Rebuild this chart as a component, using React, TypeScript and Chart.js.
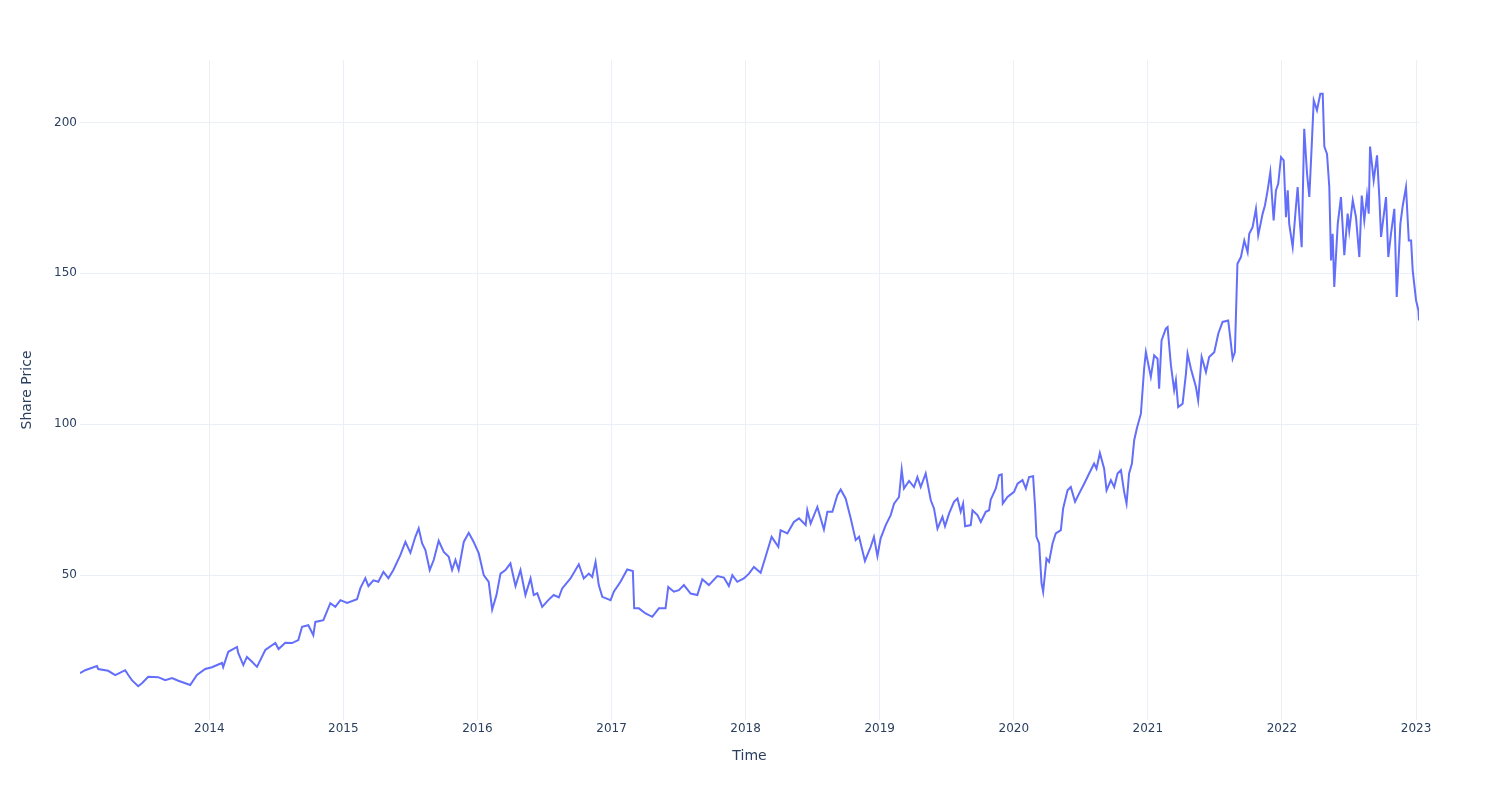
import React, { useEffect, useRef } from "react";
import { Chart, registerables } from "chart.js";

Chart.register(...registerables);

// Dates as decimal years
const years = [
  2013.036, 2013.075, 2013.162, 2013.172, 2013.246, 2013.299, 2013.373, 2013.396, 2013.423, 2013.470,
  2013.498, 2013.545, 2013.619, 2013.672, 2013.722, 2013.769, 2013.858, 2013.908, 2013.970, 2014.020,
  2014.095, 2014.104, 2014.142, 2014.207, 2014.216, 2014.254, 2014.281, 2014.319, 2014.356, 2014.418,
  2014.493, 2014.517, 2014.567, 2014.617, 2014.664, 2014.692, 2014.739, 2014.776, 2014.791, 2014.851,
  2014.903, 2014.940, 2014.978, 2015.028, 2015.102, 2015.127, 2015.164, 2015.187, 2015.224, 2015.261,
  2015.299, 2015.336, 2015.373, 2015.425, 2015.463, 2015.500, 2015.537, 2015.562, 2015.587, 2015.612,
  2015.644, 2015.674, 2015.711, 2015.749, 2015.786, 2015.811, 2015.836, 2015.860, 2015.898, 2015.935,
  2015.972, 2016.010, 2016.047, 2016.084, 2016.110, 2016.142, 2016.172, 2016.209, 2016.246, 2016.284,
  2016.321, 2016.358, 2016.396, 2016.420, 2016.446, 2016.483, 2016.532, 2016.569, 2016.607, 2016.632,
  2016.694, 2016.756, 2016.793, 2016.831, 2016.856, 2016.881, 2016.905, 2016.931, 2016.993, 2017.017,
  2017.067, 2017.117, 2017.159, 2017.169, 2017.204, 2017.254, 2017.304, 2017.353, 2017.403, 2017.423,
  2017.465, 2017.502, 2017.540, 2017.590, 2017.640, 2017.677, 2017.726, 2017.789, 2017.838, 2017.875,
  2017.901, 2017.938, 2017.987, 2018.025, 2018.062, 2018.112, 2018.149, 2018.194, 2018.244, 2018.261,
  2018.311, 2018.360, 2018.398, 2018.448, 2018.460, 2018.485, 2018.535, 2018.584, 2018.610, 2018.647,
  2018.684, 2018.709, 2018.746, 2018.784, 2018.821, 2018.846, 2018.890, 2018.933, 2018.957, 2018.983,
  2019.007, 2019.045, 2019.082, 2019.107, 2019.144, 2019.164, 2019.181, 2019.219, 2019.256, 2019.281,
  2019.306, 2019.343, 2019.381, 2019.405, 2019.431, 2019.468, 2019.487, 2019.517, 2019.554, 2019.580,
  2019.604, 2019.622, 2019.637, 2019.679, 2019.692, 2019.729, 2019.754, 2019.791, 2019.816, 2019.828,
  2019.866, 2019.890, 2019.910, 2019.918, 2019.953, 2020.002, 2020.028, 2020.065, 2020.090, 2020.114,
  2020.144, 2020.159, 2020.169, 2020.189, 2020.207, 2020.219, 2020.244, 2020.263, 2020.289, 2020.313,
  2020.351, 2020.368, 2020.401, 2020.425, 2020.457, 2020.487, 2020.525, 2020.562, 2020.599, 2020.617,
  2020.642, 2020.674, 2020.692, 2020.724, 2020.749, 2020.774, 2020.799, 2020.823, 2020.841, 2020.860,
  2020.881, 2020.898, 2020.918, 2020.948, 2020.972, 2020.985, 2021.022, 2021.047, 2021.072, 2021.084,
  2021.102, 2021.134, 2021.147, 2021.172, 2021.196, 2021.209, 2021.226, 2021.259, 2021.284, 2021.296,
  2021.321, 2021.358, 2021.375, 2021.401, 2021.433, 2021.457, 2021.495, 2021.525, 2021.557, 2021.599,
  2021.614, 2021.632, 2021.649, 2021.660, 2021.668, 2021.694, 2021.719, 2021.744, 2021.756, 2021.781,
  2021.806, 2021.823, 2021.856, 2021.873, 2021.893, 2021.913, 2021.938, 2021.955, 2021.972, 2021.993,
  2022.013, 2022.030, 2022.043, 2022.054, 2022.080, 2022.104, 2022.117, 2022.129, 2022.147, 2022.166,
  2022.187, 2022.204, 2022.222, 2022.237, 2022.261, 2022.286, 2022.304, 2022.316, 2022.336, 2022.353,
  2022.366, 2022.378, 2022.390, 2022.416, 2022.440, 2022.465, 2022.490, 2022.502, 2022.528, 2022.552,
  2022.577, 2022.595, 2022.614, 2022.634, 2022.647, 2022.657, 2022.684, 2022.709, 2022.726, 2022.739,
  2022.776, 2022.793, 2022.813, 2022.838, 2022.856, 2022.883, 2022.901, 2022.925, 2022.946, 2022.963,
  2022.975, 2023.000, 2023.018, 2023.022,
];

// Share prices
const prices = [
  17.5, 18.5, 19.9, 18.9, 18.3, 16.9, 18.5, 16.9, 15.2, 13.2,
  14.2, 16.3, 16.2, 15.2, 15.9, 15.0, 13.6, 16.9, 18.9, 19.5,
  20.9, 19.5, 24.6, 26.2, 24.2, 20.2, 22.9, 21.3, 19.6, 25.2,
  27.5, 25.5, 27.6, 27.5, 28.5, 32.9, 33.4, 30.1, 34.5, 35.1,
  40.7, 39.5, 41.7, 40.8, 42.0, 45.7, 49.0, 46.4, 48.3, 47.8,
  51.1, 49.0, 51.7, 56.6, 61.0, 57.4, 62.7, 65.5, 60.6, 58.3,
  51.7, 55.0, 61.4, 57.7, 56.1, 51.7, 55.0, 51.7, 61.0, 64.0,
  61.0, 57.2, 50.0, 47.8, 38.6, 43.4, 50.5, 51.7, 53.9, 46.4,
  51.7, 43.4, 48.9, 43.4, 44.0, 39.5, 41.9, 43.4, 42.6, 45.6,
  48.9, 53.6, 48.9, 50.5, 49.4, 54.4, 46.7, 42.8, 41.7, 44.5,
  47.8, 51.9, 51.4, 39.0, 39.0, 37.3, 36.2, 39.0, 39.0, 46.1,
  44.5, 45.0, 46.7, 43.9, 43.4, 48.6, 46.7, 49.7, 49.2, 46.4,
  50.0, 47.8, 48.9, 50.5, 52.7, 50.8, 56.1, 62.7, 59.4, 64.9,
  63.8, 67.6, 68.8, 66.6, 71.5, 67.1, 72.6, 65.1, 71.0, 71.0,
  76.5, 78.4, 75.4, 68.8, 61.6, 62.7, 54.7, 59.4, 62.7, 56.3,
  62.2, 66.6, 69.9, 73.7, 75.9, 85.0, 78.7, 81.2, 79.2, 82.5,
  79.2, 83.7, 74.8, 72.1, 65.4, 69.3, 66.2, 70.4, 74.3, 75.4,
  71.0, 73.7, 66.2, 66.6, 71.5, 69.9, 67.6, 71.0, 71.5, 75.0,
  78.7, 83.1, 83.4, 73.7, 75.9, 77.6, 80.3, 81.5, 78.7, 82.5,
  82.8, 72.6, 62.7, 60.5, 47.3, 44.5, 55.5, 54.4, 60.5, 63.8,
  64.9, 72.1, 78.1, 79.2, 74.3, 77.0, 80.3, 83.7, 87.0, 85.3,
  90.5, 85.3, 78.1, 81.5, 79.2, 83.7, 84.8, 77.6, 73.7, 83.7,
  87.0, 94.7, 98.7, 103.5, 118.4, 123.9, 115.7, 122.8, 121.7, 111.8,
  127.8, 131.7, 132.2, 119.5, 111.3, 114.6, 105.7, 106.8, 116.8, 123.4,
  118.4, 112.4, 107.9, 122.3, 117.3, 122.3, 123.9, 130.0, 133.9, 134.4,
  128.9, 121.7, 123.9, 141.0, 153.2, 155.4, 160.9, 157.0, 163.1, 165.3,
  171.4, 162.6, 169.8, 172.5, 177.5, 183.5, 167.5, 177.5, 179.7, 188.5,
  187.4, 168.6, 177.5, 166.4, 158.7, 172.0, 178.6, 169.8, 158.7, 197.9,
  183.0, 175.3, 192.4, 207.3, 204.0, 209.5, 209.5, 192.0, 189.6, 178.6,
  154.3, 163.1, 145.5, 166.4, 175.3, 156.0, 169.8, 164.2, 174.2, 168.6,
  155.4, 175.8, 167.5, 175.8, 169.8, 192.0, 180.8, 189.1, 175.3, 162.1,
  175.3, 155.4, 163.1, 171.4, 142.2, 166.4, 172.5, 178.6, 160.9, 160.9,
  151.0, 141.1, 137.7, 134.4,
];

const xTickYears = [2014, 2015, 2016, 2017, 2018, 2019, 2020, 2021, 2022, 2023];
const yTickValues = [50, 100, 150, 200];

const FONT = '"DejaVu Sans", Verdana, sans-serif';
const TEXT = "#2a3f5f";
const GRID = "#EBF0F8";

export default function App() {
  const ref = useRef<HTMLCanvasElement>(null);

  useEffect(() => {
    if (!ref.current) return;
    const chart = new Chart(ref.current, {
      type: "line",
      data: {
        datasets: [
          {
            data: years.map((x, i) => ({ x, y: prices[i] })),
            borderColor: "#636efa",
            borderWidth: 2,
            pointRadius: 0,
            tension: 0,
            fill: false,
          },
        ],
      },
      options: {
        animation: false,
        responsive: false,
        layout: { padding: { left: 0, right: 81, top: 60, bottom: 0 } },
        plugins: { legend: { display: false }, tooltip: { enabled: false } },
        scales: {
          x: {
            type: "linear",
            min: 2013.036,
            max: 2023.022,
            afterBuildTicks: (s: any) => {
              s.ticks = xTickYears.map((v) => ({ value: v }));
            },
            afterFit: (s: any) => {
              s.height = 80;
            },
            grid: { color: GRID, drawTicks: false, lineWidth: 1 },
            border: { display: false },
            ticks: {
              padding: 2,
              color: TEXT,
              font: { family: FONT, size: 12 },
              maxRotation: 0,
              autoSkip: false,
              callback: (v: any) => String(v),
            },
            title: {
              display: true,
              text: "Time",
              color: TEXT,
              font: { family: FONT, size: 14 },
              padding: { top: 0, bottom: 35 },
            },
          },
          y: {
            type: "linear",
            min: 2,
            max: 220.7,
            afterBuildTicks: (s: any) => {
              s.ticks = yTickValues.map((v) => ({ value: v }));
            },
            afterFit: (s: any) => {
              s.width = 80;
            },
            grid: { color: GRID, drawTicks: false, lineWidth: 1 },
            border: { display: false },
            ticks: {
              padding: 3,
              color: TEXT,
              font: { family: FONT, size: 12 },
              callback: (v: any) => String(v),
            },
            title: {
              display: true,
              text: "Share Price",
              color: TEXT,
              font: { family: FONT, size: 14 },
              padding: { top: 19, bottom: 0 },
            },
          },
        },
      },
    });
    return () => chart.destroy();
  }, []);

  return (
    <div style={{ position: "absolute", left: 0, top: 0, width: 1500, height: 800, background: "#fff" }}>
      <canvas ref={ref} width={1500} height={800} style={{ display: "block" }} />
    </div>
  );
}
